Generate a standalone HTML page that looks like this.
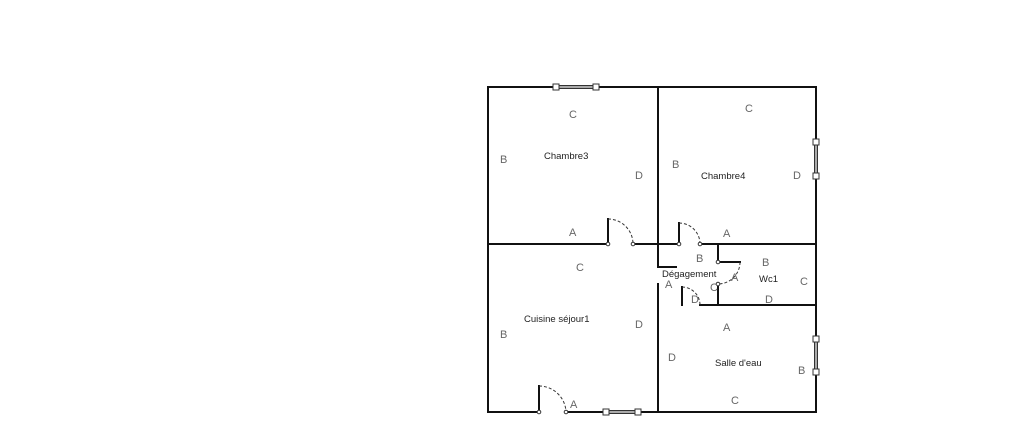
<!DOCTYPE html>
<html><head><meta charset="utf-8"><style>
body{margin:0;background:#fff;}
svg text{font-family:"Liberation Sans",sans-serif;}
</style></head><body>
<svg width="1024" height="436" viewBox="0 0 1024 436" xmlns="http://www.w3.org/2000/svg">
<g stroke="#111" stroke-width="2" fill="none" stroke-linecap="square">
<!-- outer -->
<polyline points="556,87 488,87 488,412 539,412"/>
<line x1="596" y1="87" x2="816" y2="87"/>
<line x1="816" y1="87" x2="816" y2="142"/>
<line x1="816" y1="176" x2="816" y2="339"/>
<line x1="816" y1="372" x2="816" y2="412"/>
<line x1="566" y1="412" x2="606" y2="412"/>
<line x1="638" y1="412" x2="816" y2="412"/>
<!-- middle vertical -->
<line x1="658" y1="87" x2="658" y2="267"/>
<line x1="658" y1="267" x2="676" y2="267"/>
<line x1="658" y1="284" x2="658" y2="412"/>
<!-- horizontal y 244 -->
<line x1="488" y1="244" x2="608" y2="244"/>
<line x1="633" y1="244" x2="679" y2="244"/>
<line x1="700" y1="244" x2="816" y2="244"/>
<!-- doors -->
<line x1="608" y1="219" x2="608" y2="244"/>
<line x1="679" y1="223" x2="679" y2="244"/>
<line x1="539" y1="386" x2="539" y2="412"/>
<line x1="682" y1="287" x2="682" y2="305"/>
<!-- y 305 -->
<line x1="700" y1="305" x2="816" y2="305"/>
<!-- wc -->
<line x1="718" y1="244" x2="718" y2="262"/>
<line x1="718" y1="262" x2="740" y2="262"/>
<line x1="718" y1="284" x2="718" y2="305"/>
</g>
<g stroke="#333" stroke-width="1" fill="none" stroke-dasharray="3,2">
<path d="M608,219 A25,25 0 0 1 633,244"/>
<path d="M679,223 A21,21 0 0 1 700,244"/>
<path d="M539,386 A27,27 0 0 1 566,412"/>
<path d="M682,287 A18,18 0 0 1 700,305"/>
<path d="M740,262 A22,22 0 0 1 718,284"/>
</g>
<!-- windows -->
<g stroke="#333" stroke-width="1" fill="#fff">
<rect x="556" y="85.5" width="40" height="3" fill="#aaa"/>
<rect x="553" y="84" width="6" height="6"/><rect x="593" y="84" width="6" height="6"/>
<rect x="606" y="410.5" width="32" height="3" fill="#aaa"/>
<rect x="603" y="409" width="6" height="6"/><rect x="635" y="409" width="6" height="6"/>
<rect x="814.5" y="142" width="3" height="34" fill="#aaa"/>
<rect x="813" y="139" width="6" height="6"/><rect x="813" y="173" width="6" height="6"/>
<rect x="814.5" y="339" width="3" height="33" fill="#aaa"/>
<rect x="813" y="336" width="6" height="6"/><rect x="813" y="369" width="6" height="6"/>
<circle cx="608" cy="244" r="1.8"/><circle cx="633" cy="244" r="1.8"/>
<circle cx="679" cy="244" r="1.8"/><circle cx="700" cy="244" r="1.8"/>
<circle cx="539" cy="412" r="1.8"/><circle cx="566" cy="412" r="1.8"/>
<circle cx="718" cy="262" r="1.8"/><circle cx="718" cy="284" r="1.8"/>
</g>
<g fill="#666" font-size="11">
<text x="569" y="118">C</text><text x="500" y="163">B</text><text x="635" y="179">D</text><text x="569" y="236">A</text>
<text x="745" y="112">C</text><text x="672" y="168">B</text><text x="793" y="179">D</text><text x="723" y="237">A</text>
<text x="576" y="271">C</text><text x="500" y="338">B</text><text x="635" y="328">D</text><text x="570" y="408">A</text>
<text x="696" y="262">B</text><text x="665" y="288">A</text><text x="710" y="291">C</text><text x="691" y="303">D</text><text x="731" y="281">A</text>
<text x="762" y="266">B</text><text x="800" y="285">C</text><text x="765" y="303">D</text>
<text x="723" y="331">A</text><text x="668" y="361">D</text><text x="798" y="374">B</text><text x="731" y="404">C</text>
</g>
<g fill="#222" font-size="9.5">
<text x="544" y="159">Chambre3</text>
<text x="701" y="179">Chambre4</text>
<text x="662" y="277">Dégagement</text>
<text x="759" y="282">Wc1</text>
<text x="524" y="322">Cuisine séjour1</text>
<text x="715" y="366">Salle d'eau</text>
</g>
</svg>
</body></html>
